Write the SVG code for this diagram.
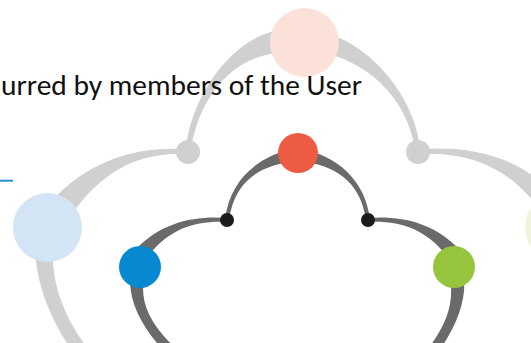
<svg xmlns="http://www.w3.org/2000/svg" width="531" height="343" viewBox="0 0 531 343">
<style>
.outer{fill:#d0d0d1}
.inner{fill:#6a6a6a}
.lbl{font-family:Carlito,Lato,"Open Sans",sans-serif;font-size:29px;fill:#111}
</style>
<rect width="531" height="343" fill="#ffffff"/>
<g id="connectors">
<path class="outer" d="M285,30 C240,31 191,89.6 185.5,151.7 L190.5,152.3 C199,90.4 240,52 285,53 Z"/>
<path class="outer" d="M318.3,51.9 C363.4,58.9 408,95.4 415.5,152.3 L420.5,151.7 C416,94.6 366.6,41.1 321.8,32.2 Z"/>
<path class="outer" d="M188.2,149.5 C140.2,145 87.9,159.5 50.5,202.6 L69.5,217.4 C102.1,170.5 139.8,151 187.8,154.5 Z"/>
<path class="outer" d="M36.1,233.9 C31.1,273.9 49.3,319.1 74.3,354.1 L85.7,345.9 C60.7,310.9 48.9,276.1 53.9,236.1 Z"/>
<path class="outer" d="M418.2,154.5 C465.3,151 506,165.3 537.5,206.6 L552.5,193.4 C518,154.7 464.7,145 417.8,149.5 Z"/>
<path class="inner" d="M294.2,149.1 C259.3,155.1 229.5,179.7 225,219.8 L229,220.2 C234.5,180.3 260.7,164.9 295.8,160.9 Z"/>
<path class="inner" d="M300.8,149.1 C335.7,155.1 365.5,179.7 370,219.8 L366,220.2 C360.5,180.3 334.3,164.9 299.2,160.9 Z"/>
<path class="inner" d="M227.1,218 C195.2,215.5 161.2,221.8 134.6,250.5 L145.4,259.5 C168.8,228.2 194.8,220.5 226.9,222 Z"/>
<path class="inner" d="M367.9,218 C399.8,215.5 433.8,221.8 460.4,250.5 L449.6,259.5 C426.2,228.2 400.2,220.5 368.1,222 Z"/>
<path class="inner" d="M131.1,268.6 C125.6,298.8 141.5,328.5 168.5,355.5 L175.5,348.5 C148.5,321.5 138.4,301.2 144.9,271.4 Z"/>
<path class="inner" d="M449.1,271.4 C455.1,301.4 448,322 428,349 L436,355 C456,328 468.9,298.6 462.9,268.6 Z"/>
</g>
<g id="node-pink"><circle cx="304.5" cy="42.5" r="34.5" fill="#fbe1d8"/></g>
<g id="node-lightblue"><circle cx="47.5" cy="227.5" r="34.5" fill="#d3e4f4"/></g>
<g id="node-lightgreen"><circle cx="559.5" cy="227" r="34.5" fill="#eef4de"/></g>
<g id="node-graydot-left"><circle cx="188" cy="152" r="12" fill="#d0d0d1"/></g>
<g id="node-graydot-right"><circle cx="418" cy="152" r="12" fill="#d0d0d1"/></g>
<g id="node-red"><circle cx="298" cy="153" r="20" fill="#ee5b43"/></g>
<g id="node-blue"><circle cx="140" cy="267" r="21" fill="#0689d0"/></g>
<g id="node-green"><circle cx="454" cy="267" r="21" fill="#96c43d"/></g>
<g id="node-blackdot-left"><circle cx="227" cy="220" r="7" fill="#1b1b1b"/></g>
<g id="node-blackdot-right"><circle cx="368" cy="220" r="7" fill="#1b1b1b"/></g>
<line x1="0" y1="180.7" x2="13" y2="180.7" stroke="#2a8fd6" stroke-width="2"/>
<text class="lbl" x="1" y="95" textLength="361" lengthAdjust="spacingAndGlyphs">urred by members of the User</text>
</svg>
